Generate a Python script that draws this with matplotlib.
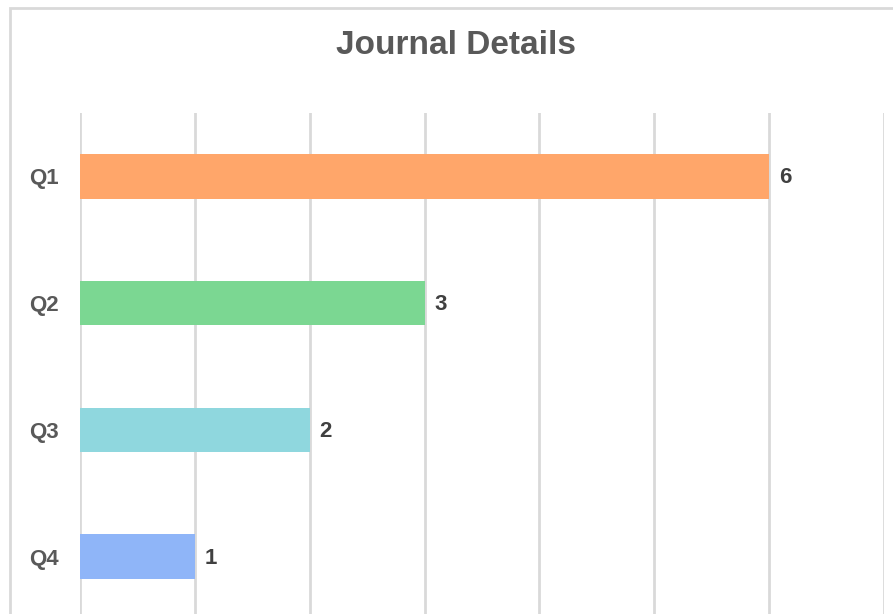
import matplotlib.pyplot as plt
from matplotlib.patches import Rectangle

# chart data
quartiles = ["Q1", "Q2", "Q3", "Q4"]
counts = [6, 3, 2, 1]
bar_colors = ["#FFA66A", "#7BD792", "#8FD7DE", "#8FB5F8"]

plt.rcParams["font.family"] = ["Liberation Sans", "DejaVu Sans"]

fig = plt.figure(figsize=(8.93, 6.14), dpi=100)

# light frame of the chart area (cropped at right and bottom)
fig.patches.append(Rectangle((10 / 893, -0.1), 1.2, 1.1 - 8 / 614,
                             transform=fig.transFigure, fill=False,
                             edgecolor="#D9D9D9", linewidth=2, zorder=0))

ax = fig.add_axes([80 / 893, -6 / 614, (884 - 80) / 893, (614 - 113 + 6) / 614])

y_pos = list(range(len(quartiles)))
ax.barh(y_pos, counts, height=0.35, color=bar_colors, zorder=3)

for y, v in zip(y_pos, counts):
    ax.annotate(str(v), (v, y), xytext=(7, -1), textcoords="offset points",
                ha="left", va="center", fontsize=16, fontweight="bold",
                color="#404040")

ax.set_xlim(0, 7)
ax.set_ylim(3.5, -0.5)
ax.set_xticks(range(8))
ax.set_xticklabels([])
ax.set_yticks(y_pos)
ax.set_yticklabels(quartiles, fontsize=16, fontweight="bold", color="#595959")
ax.tick_params(length=0, pad=15)
ax.grid(axis="x", color="#D9D9D9", linewidth=2, zorder=0)
for s in ax.spines.values():
    s.set_visible(False)

fig.text(456 / 893, 1 - 46 / 614, "Journal Details", ha="center", va="center",
         fontsize=24, fontweight="bold", color="#595959")

fig.savefig("out.png", dpi=100)
